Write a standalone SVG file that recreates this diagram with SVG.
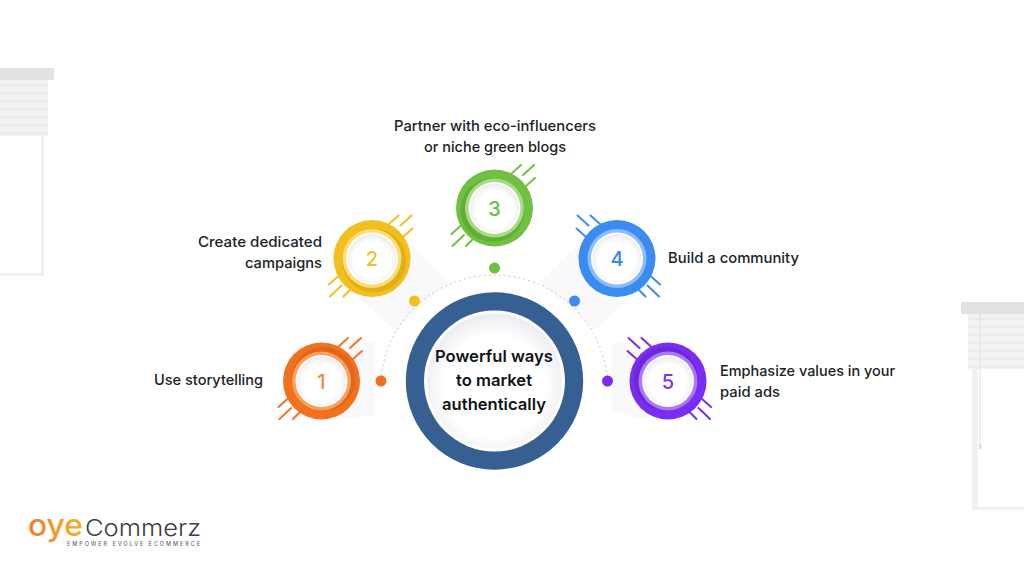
<svg xmlns="http://www.w3.org/2000/svg" width="1024" height="576" viewBox="0 0 1024 576">
<style>
text{font-family:"Inter","Noto Sans","Liberation Sans",sans-serif}
.lbl{font-size:14.700px;font-weight:500;fill:#202226}
.ctr{font-size:16.600px;font-weight:600;fill:#111318;text-anchor:middle}
.num{font-size:20px;font-weight:500;text-anchor:middle}
.hatch{fill:none;stroke-width:2;stroke-linecap:round}
.shadow{fill:#f9f9fb}
.frame{fill:#f1f1f1}
.bar{fill:#e2e2e2}
.slat{fill:#f3f3f3}
.slat2{fill:#ebebeb}
.inner{fill:url(#innerGrad)}
.arc{fill:none;stroke:#c4c6cc;stroke-width:1;stroke-dasharray:2 3}
</style>
<defs>
<radialGradient id="innerGrad" cy="0.54" r="0.54"><stop offset="0.7" stop-color="#ffffff"/><stop offset="1" stop-color="#ebecf0"/></radialGradient>
<linearGradient id="oye" x1="0" x2="1" y1="0" y2="0"><stop offset="0" stop-color="#ef7d32"/><stop offset="1" stop-color="#f6b02c"/></linearGradient>
<g id="hatchA"><path d="M16.500-34L26.500-43M28.500-33L39.500-43M31.500-22L40.500-30M-43 26L-33 17M-42 38L-30.500 27M-28.500 38L-21.500 31"/></g>
<g id="hatchB"><path d="M-16.500-34L-26.500-43M-28.500-33L-39.500-43M-31.500-22L-40.500-30M43 26L33 17M42 38L30.500 27M28.500 38L21.500 31"/></g>
</defs>
<rect width="1024" height="576" fill="#ffffff"/>
<g id="blind-left">
<rect class="frame" x="0" y="136" width="44" height="140"/><rect x="0" y="136" width="41" height="137" fill="#fff"/>
<rect class="slat" x="0" y="80" width="48" height="56"/>
<path class="slat2" d="M0 84h48v2H0zM0 92h48v2H0zM0 100h48v2H0zM0 108h48v2H0zM0 116h48v2H0zM0 124h48v2H0zM0 132h48v2H0z"/>
<rect class="bar" x="0" y="68" width="54" height="12"/>
</g>
<g id="blind-right">
<rect class="frame" x="972" y="369" width="52" height="141"/><rect x="978" y="369" width="46" height="138" fill="#fff"/>
<rect class="slat" x="968" y="314" width="56" height="55"/>
<path class="slat2" d="M968 318h56v2h-56zM968 326h56v2h-56zM968 334h56v2h-56zM968 342h56v2h-56zM968 350h56v2h-56zM968 358h56v2h-56zM968 366h56v2h-56z"/>
<rect x="979.500" y="314" width="1" height="130" fill="#dedede"/><rect x="979" y="444" width="2.500" height="5" fill="#dedede"/>
<rect class="bar" x="961" y="302" width="63" height="12"/>
</g>
<g id="shadows">
<path class="shadow" d="M321 343H375V415L350 419H321z"/>
<path class="shadow" d="M399 232L449 282L395 330L345 285z"/>
<path class="shadow" d="M590 232L540 282L594 330L644 285z"/>
<path class="shadow" d="M668 343H612V410L640 419H668z"/>
</g>
<g id="connectors">
<path class="arc" d="M381 381A113.500 113.500 0 0 1 607.500 381"/>
</g>
<g id="center">
<circle cx="494.500" cy="381" r="88.700" fill="#365f92"/>
<circle cx="494.500" cy="381" r="70.500" fill="#fff"/>
<circle cx="494.500" cy="381" r="67.500" class="inner"/>
<text class="ctr" x="494" y="362">Powerful ways</text>
<text class="ctr" x="494" y="386">to market</text>
<text class="ctr" x="494" y="410">authentically</text>
</g>
<g id="node-1" transform="translate(321.500 381)">
<use href="#hatchA" class="hatch" stroke="#f2762a"/>
<circle r="38.500" fill="#f2711f"/>
<circle cx="2" cy="-2" r="32" fill="#df661b"/>
<circle r="29.500" fill="#fb9f5c"/><circle r="26" fill="#fff"/><circle r="24.500" class="inner"/>
<text class="num" y="7.500" fill="#f2883c">1</text>
</g>
<circle id="dot-1" cx="381" cy="381" r="5.500" fill="#f2711f"/>
<g id="node-2" transform="translate(372 258.500)">
<use href="#hatchA" class="hatch" stroke="#f0c026"/>
<circle r="38.500" fill="#f1c01e"/>
<circle cx="2" cy="2" r="32" fill="#e0b014"/>
<circle r="29.500" fill="#fbdc70"/><circle r="26" fill="#fff"/><circle r="24.500" class="inner"/>
<text class="num" y="7.500" fill="#eec22a">2</text>
</g>
<circle id="dot-2" cx="414.500" cy="301" r="5.500" fill="#f1c01e"/>
<g id="node-3" transform="translate(494.500 208)">
<use href="#hatchA" class="hatch" stroke="#74c043"/>
<circle r="38.500" fill="#71c042"/>
<circle cx="-2" cy="2" r="32" fill="#60b033"/>
<circle r="29.500" fill="#a6dc84"/><circle r="26" fill="#fff"/><circle r="24.500" class="inner"/>
<text class="num" y="7.500" fill="#6cc040">3</text>
</g>
<circle id="dot-3" cx="494.500" cy="268" r="5.500" fill="#6cc040"/>
<g id="node-4" transform="translate(617 258.500)">
<use href="#hatchB" class="hatch" stroke="#3d8eef"/>
<circle r="38.500" fill="#3a8cf0"/>
<circle r="29.500" fill="#8dbcf7"/><circle r="26" fill="#fff"/><circle r="24.500" class="inner"/>
<text class="num" y="7.500" fill="#3d86e6">4</text>
</g>
<circle id="dot-4" cx="574.500" cy="301" r="5.500" fill="#3a8cf0"/>
<g id="node-5" transform="translate(668 381)">
<use href="#hatchB" class="hatch" stroke="#7b2fe8"/>
<circle r="38.500" fill="#7a2df0"/>
<circle cx="-2" cy="-2" r="32" fill="#6e26d8"/>
<circle r="29.500" fill="#a878f7"/><circle r="26" fill="#fff"/><circle r="24.500" class="inner"/>
<text class="num" y="7.500" fill="#7a35e6">5</text>
</g>
<circle id="dot-5" cx="607.500" cy="381" r="5.500" fill="#7a2df0"/>
<g id="labels">
<text class="lbl" x="154" y="385" textLength="109" lengthAdjust="spacingAndGlyphs">Use storytelling</text>
<text class="lbl" x="198" y="246.500" textLength="124" lengthAdjust="spacingAndGlyphs">Create dedicated</text>
<text class="lbl" x="245" y="267.500" textLength="77" lengthAdjust="spacingAndGlyphs">campaigns</text>
<text class="lbl" x="394" y="131" textLength="202" lengthAdjust="spacingAndGlyphs">Partner with eco-influencers</text>
<text class="lbl" x="424" y="152" textLength="142" lengthAdjust="spacingAndGlyphs">or niche green blogs</text>
<text class="lbl" x="668" y="263" textLength="131" lengthAdjust="spacingAndGlyphs">Build a community</text>
<text class="lbl" x="720" y="376" textLength="175" lengthAdjust="spacingAndGlyphs">Emphasize values in your</text>
<text class="lbl" x="720" y="397" textLength="60" lengthAdjust="spacingAndGlyphs">paid ads</text>
</g>
<g id="logo">
<text x="28" y="536" font-size="30" font-weight="500" fill="url(#oye)" textLength="55" lengthAdjust="spacingAndGlyphs">oye</text>
<text x="85" y="536" font-size="23" font-weight="300" fill="#3d3f45" textLength="116" lengthAdjust="spacingAndGlyphs">Commerz</text>
<text x="67" y="545.500" font-size="5.500" font-weight="500" fill="#6a6c72" textLength="133">EMPOWER EVOLVE ECOMMERCE</text>
</g>
</svg>
